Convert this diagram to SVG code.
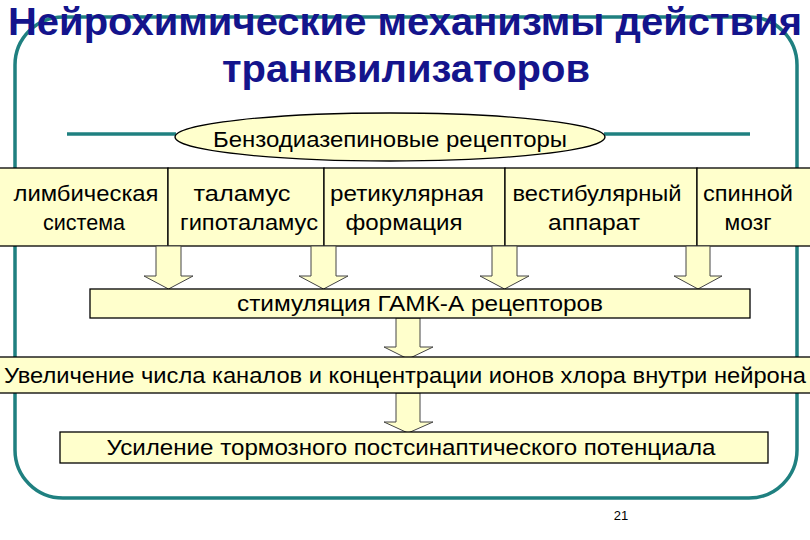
<svg xmlns="http://www.w3.org/2000/svg" width="810" height="540" viewBox="0 0 810 540">
<style>
.box{fill:#FFFFCC;stroke:#000;stroke-width:1.3}
.arr{fill:#FFFFCC;stroke:#444;stroke-width:1}
.t{font-family:"Liberation Sans",Arial,sans-serif;font-size:22px;fill:#000;text-anchor:middle}
.title{font-family:"Liberation Sans",Arial,sans-serif;font-weight:bold;font-size:38px;fill:#14148C;text-anchor:middle}
.teal{stroke:#1F8080;stroke-width:3.5;fill:none}
</style>
<rect width="810" height="540" fill="#fff"/>
<rect class="teal" x="15" y="17" width="782" height="481" rx="48" ry="48"/>
<g id="title">
<text class="title" x="405" y="35" textLength="794" lengthAdjust="spacingAndGlyphs">Нейрохимические механизмы действия</text>
<text class="title" x="406" y="82" textLength="368" lengthAdjust="spacingAndGlyphs">транквилизаторов</text>
</g>
<g id="receptors">
<line class="teal" x1="67" y1="134" x2="176" y2="134"/>
<line class="teal" x1="604" y1="134" x2="750" y2="134"/>
<ellipse class="box" cx="390" cy="137" rx="215" ry="24"/>
<text class="t" x="390" y="147" textLength="354" lengthAdjust="spacingAndGlyphs">Бензодиазепиновые рецепторы</text>
</g>
<g id="limbic">
<rect class="box" x="-2" y="168" width="170" height="78"/>
<text class="t" x="86" y="201" textLength="145" lengthAdjust="spacingAndGlyphs">лимбическая</text>
<text class="t" x="84" y="230" textLength="82" lengthAdjust="spacingAndGlyphs">система</text>
</g>
<g id="thalamus">
<rect class="box" x="168" y="168" width="156" height="78"/>
<text class="t" x="242" y="201" textLength="97" lengthAdjust="spacingAndGlyphs">таламус</text>
<text class="t" x="249" y="230" textLength="138" lengthAdjust="spacingAndGlyphs">гипоталамус</text>
</g>
<g id="reticular">
<rect class="box" x="324" y="168" width="181" height="78"/>
<text class="t" x="407" y="201" textLength="154" lengthAdjust="spacingAndGlyphs">ретикулярная</text>
<text class="t" x="404" y="230" textLength="117" lengthAdjust="spacingAndGlyphs">формация</text>
</g>
<g id="vestibular">
<rect class="box" x="505" y="168" width="192" height="78"/>
<text class="t" x="597" y="201" textLength="169" lengthAdjust="spacingAndGlyphs">вестибулярный</text>
<text class="t" x="594" y="230" textLength="92" lengthAdjust="spacingAndGlyphs">аппарат</text>
</g>
<g id="spinal">
<rect class="box" x="697" y="168" width="120" height="78"/>
<text class="t" x="748" y="201" textLength="90" lengthAdjust="spacingAndGlyphs">спинной</text>
<text class="t" x="748" y="230" textLength="47" lengthAdjust="spacingAndGlyphs">мозг</text>
</g>
<g id="connectors">
<polygon class="arr" points="156,246 181,246 181,276 193,276 168.5,289 144,276 156,276"/>
<polygon class="arr" points="311,246 336,246 336,276 348,276 323.5,289 299,276 311,276"/>
<polygon class="arr" points="492,246 517,246 517,276 529,276 504.5,289 480,276 492,276"/>
<polygon class="arr" points="686,246 710,246 710,276 722,276 698,289 674,276 686,276"/>
<polygon class="arr" points="396,318 420,318 420,347 433,347 408,359 384,347 396,347"/>
<polygon class="arr" points="396,393 420,393 420,422 433,422 408,433 384,422 396,422"/>
</g>
<g id="gaba">
<rect class="box" x="90" y="289" width="660" height="29"/>
<text class="t" x="420" y="311" textLength="366" lengthAdjust="spacingAndGlyphs">стимуляция ГАМК-А рецепторов</text>
</g>
<g id="channels">
<rect class="box" x="-2" y="357" width="814" height="36"/>
<text class="t" x="405" y="383" textLength="802" lengthAdjust="spacingAndGlyphs">Увеличение числа каналов и концентрации ионов хлора внутри нейрона</text>
</g>
<g id="ipsp">
<rect class="box" x="60" y="432" width="708" height="31"/>
<text class="t" x="411" y="455" textLength="609" lengthAdjust="spacingAndGlyphs">Усиление тормозного постсинаптического потенциала</text>
</g>
<text x="621" y="520" font-family="Liberation Sans,Arial,sans-serif" font-size="13" text-anchor="middle" fill="#000">21</text>
</svg>
